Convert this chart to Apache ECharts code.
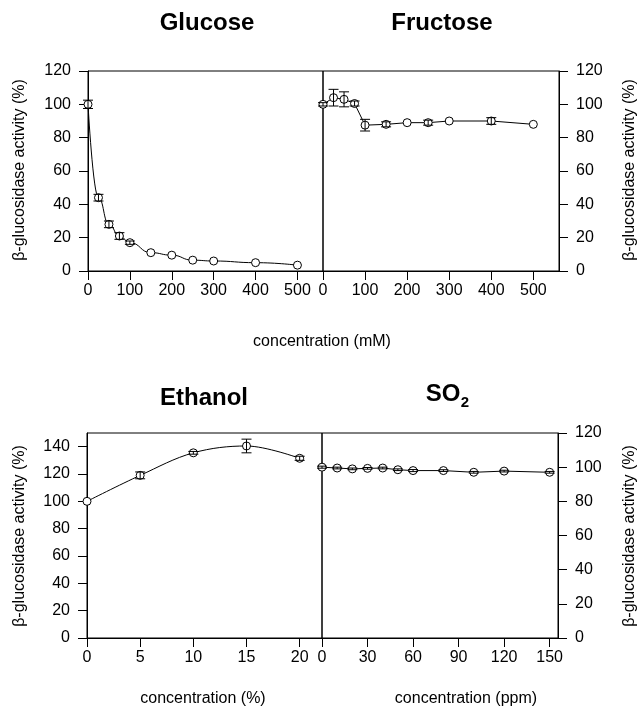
<!DOCTYPE html>
<html>
<head>
<meta charset="utf-8">
<script src="https://cdn.jsdelivr.net/npm/echarts@6/dist/echarts.min.js"></script>
<style>
html,body{margin:0;padding:0;background:#fff;}
#chart{width:637px;height:709px;}
</style>
</head>
<body>
<div id="chart"></div>
<script>
const glucoseX = [0, 25, 50, 75, 100, 150, 200, 250, 300, 400, 500];
const glucoseY = [100, 44, 28, 21, 17, 11, 9.5, 6.5, 6, 5, 3.5];
const glucoseErr = [2.5, 2, 2, 2, 1, 0, 0, 0, 0, 0, 0];

const fructoseX = [0, 25, 50, 75, 100, 150, 200, 250, 300, 400, 500];
const fructoseY = [100, 104, 103, 100.5, 87.5, 88, 89, 89, 90, 90, 88];
const fructoseErr = [1, 5, 4.5, 1.5, 3.5, 1.5, 0, 1.5, 0, 2, 0];

const ethanolX = [0, 5, 10, 15, 20];
const ethanolY = [100, 119, 135.5, 140.5, 131.5];
const ethanolErr = [0, 2.5, 1, 5, 1.5];

const so2X = [0, 10, 20, 30, 40, 50, 60, 80, 100, 120, 150];
const so2Y = [100, 99.5, 99, 99.3, 99.5, 98.5, 98, 98, 97, 97.7, 97];
const so2Err = [0.6, 0.5, 0.5, 0.5, 0.5, 0.5, 0.6, 0.5, 0.5, 0.5, 0.5];

const mMTicks = [0, 100, 200, 300, 400, 500];
const pctTicks = [0, 5, 10, 15, 20];
const ppmTicks = [0, 30, 60, 90, 120, 150];
const act120Ticks = [0, 20, 40, 60, 80, 100, 120];
const act140Ticks = [0, 20, 40, 60, 80, 100, 120, 140];

const titles = ['Glucose', 'Fructose', 'Ethanol'];
const yName = 'β-glucosidase activity (%)';
const xNames = ['concentration (mM)', 'concentration (%)', 'concentration (ppm)'];

const FONT = '"Liberation Sans", Arial, Helvetica, sans-serif';
const BLACK = '#000';

const chart = echarts.init(document.getElementById('chart'), null, {renderer: 'canvas'});

function pairs(xs, ys) { return xs.map((x, i) => [x, ys[i]]); }
function triples(xs, ys, es) { return xs.map((x, i) => [x, ys[i], es[i]]); }

function xAxisDef(grid, max, ticks) {
  return {
    type: 'value', gridIndex: grid, min: 0, max: max,
    axisLine: {show: true, onZero: false, lineStyle: {color: BLACK, width: 1}},
    axisTick: {show: true, inside: false, length: 9, customValues: ticks, lineStyle: {color: BLACK, width: 1}},
    axisLabel: {show: true, customValues: ticks, margin: 12, color: BLACK, fontSize: 16, fontFamily: FONT},
    splitLine: {show: false}
  };
}
function yAxisDef(grid, max, ticks, pos) {
  return {
    type: 'value', gridIndex: grid, min: 0, max: max, position: pos,
    axisLine: {show: true, onZero: false, lineStyle: {color: BLACK, width: 1}},
    axisTick: {show: true, inside: false, length: 9, customValues: ticks, lineStyle: {color: BLACK, width: 1}},
    axisLabel: {show: true, customValues: ticks, margin: 17, color: BLACK, fontSize: 16, fontFamily: FONT},
    splitLine: {show: false}
  };
}
function lineSeries(i, data, smooth, mono) {
  return {
    type: 'line', xAxisIndex: i, yAxisIndex: i, data: data,
    smooth: smooth, smoothMonotone: mono,
    symbol: 'circle', symbolSize: 8, showSymbol: true,
    lineStyle: {color: BLACK, width: 1},
    itemStyle: {color: '#fff', borderColor: BLACK, borderWidth: 1},
    z: 2, silent: true
  };
}
function errSeries(i, data) {
  return {
    type: 'custom', xAxisIndex: i, yAxisIndex: i, data: data, z: 3, silent: true,
    renderItem: function (params, api) {
      const x = api.value(0), y = api.value(1), e = api.value(2);
      if (!e) return null;
      const top = api.coord([x, y + e]);
      const bot = api.coord([x, y - e]);
      const hw = 5;
      const st = {stroke: BLACK, lineWidth: 1};
      return {
        type: 'group',
        children: [
          {type: 'line', shape: {x1: top[0], y1: top[1], x2: bot[0], y2: bot[1]}, style: st},
          {type: 'line', shape: {x1: top[0] - hw, y1: top[1], x2: top[0] + hw, y2: top[1]}, style: st},
          {type: 'line', shape: {x1: bot[0] - hw, y1: bot[1], x2: bot[0] + hw, y2: bot[1]}, style: st}
        ]
      };
    }
  };
}

const gridStyle = {show: true, borderColor: BLACK, borderWidth: 1, backgroundColor: 'transparent', containLabel: false};

function txt(x, y, text, size, bold, rot) {
  return {
    type: 'text', x: x, y: y, rotation: rot || 0, silent: true,
    style: {text: text, fill: BLACK, font: (bold ? 'bold ' : '') + size + 'px ' + FONT, align: 'center', verticalAlign: 'middle'}
  };
}

const option = {
  animation: false,
  backgroundColor: '#fff',
  grid: [
    Object.assign({left: 88, top: 71, width: 235, height: 200}, gridStyle),
    Object.assign({left: 323, top: 71, width: 236, height: 200}, gridStyle),
    Object.assign({left: 87, top: 433, width: 235, height: 205}, gridStyle),
    Object.assign({left: 322, top: 433, width: 236, height: 205}, gridStyle)
  ],
  xAxis: [
    xAxisDef(0, 561, mMTicks),
    xAxisDef(1, 561, mMTicks),
    xAxisDef(2, 22.1, pctTicks),
    xAxisDef(3, 155.5, ppmTicks)
  ],
  yAxis: [
    yAxisDef(0, 120, act120Ticks, 'left'),
    yAxisDef(1, 120, act120Ticks, 'right'),
    yAxisDef(2, 150, act140Ticks, 'left'),
    yAxisDef(3, 120, act120Ticks, 'right')
  ],
  series: [
    lineSeries(0, pairs(glucoseX, glucoseY), 0.5, 'x'),
    errSeries(0, triples(glucoseX, glucoseY, glucoseErr)),
    lineSeries(1, pairs(fructoseX, fructoseY), false),
    errSeries(1, triples(fructoseX, fructoseY, fructoseErr)),
    lineSeries(2, pairs(ethanolX, ethanolY), 0.35),
    errSeries(2, triples(ethanolX, ethanolY, ethanolErr)),
    lineSeries(3, pairs(so2X, so2Y), false),
    errSeries(3, triples(so2X, so2Y, so2Err))
  ],
  graphic: [
    txt(207, 23, titles[0], 24, true),
    txt(442, 23, titles[1], 24, true),
    txt(204, 398, titles[2], 24, true),
    txt(443, 394, 'SO', 24, true),
    txt(465, 403, '2', 15, true),
    txt(20, 170, yName, 16, false, Math.PI / 2),
    txt(630, 170, yName, 16, false, Math.PI / 2),
    txt(20, 536, yName, 16, false, Math.PI / 2),
    txt(630, 536, yName, 16, false, Math.PI / 2),
    txt(322, 342, xNames[0], 16, false),
    txt(203, 699, xNames[1], 16, false),
    txt(466, 699, xNames[2], 16, false)
  ]
};
chart.setOption(option);
</script>
</body>
</html>
